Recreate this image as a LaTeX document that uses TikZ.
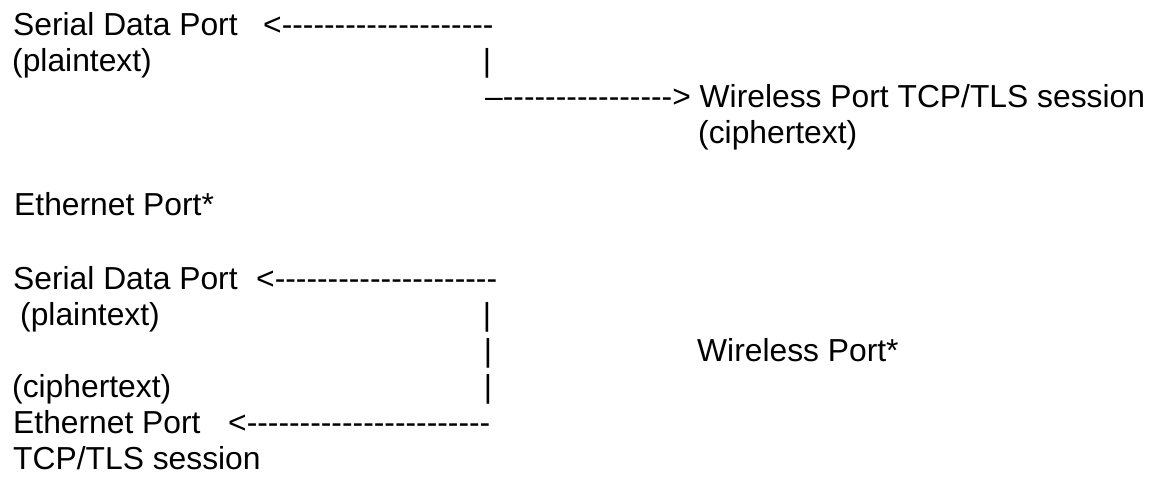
\documentclass[tikz,border=0pt]{standalone}
\usepackage{fontspec}
\newfontfamily\portfont{Liberation Sans}
% a run of plain hyphens (kerns keep them from joining into dashes)
\newcommand\hyph[1]{\foreach \i in {1,...,#1}{-\kern0pt}}

\begin{document}
\begin{tikzpicture}[x=1pt, y=-1pt,
        txt/.style={inner sep=0pt, anchor=base west, font=\portfont\fontsize{31.8}{36}\selectfont},
        bar/.style={inner sep=0pt, anchor=base, font=\portfont\fontsize{31.8}{36}\selectfont}]
        \useasboundingbox (0,0) rectangle (1149,477);

        % --- SERIAL TO WIRELESS ---
        \node[txt] (serialA) at (13,35) {Serial Data Port};
        \node[txt] (arrowA) at (263,35) {<\hyph{20}};
        \node[txt] (plainA) at (12,71) {(plaintext)};
        \node[bar] (pipeA) at (487,71) {|};
        \node[txt] (arrowB) at (485,107) {–\hyph{16}> Wireless Port TCP/TLS session};
        \node[txt] (cipherA) at (698,143) {(ciphertext)};
        \node[txt] (ethA) at (14,215) {Ethernet Port*};

        % --- SERIAL AND ETHERNET ---
        \node[txt] (serialB) at (13,289) {Serial Data Port};
        \node[txt] (arrowC) at (256,289) {<\hyph{21}};
        \node[txt] (plainB) at (20,325) {(plaintext)};
        \node[bar] (pipeB) at (487,325) {|};
        \node[bar] (pipeC) at (488,361) {|};
        \node[txt] (wireB) at (697,361) {Wireless Port*};
        \node[txt] (cipherB) at (12,397) {(ciphertext)};
        \node[bar] (pipeD) at (488,397) {|};
        \node[txt] (ethB) at (13,433) {Ethernet Port};
        \node[txt] (arrowD) at (228,433) {<\hyph{23}};
        \node[txt] (tlsB) at (13,469) {TCP/TLS session};
\end{tikzpicture}
\end{document}
